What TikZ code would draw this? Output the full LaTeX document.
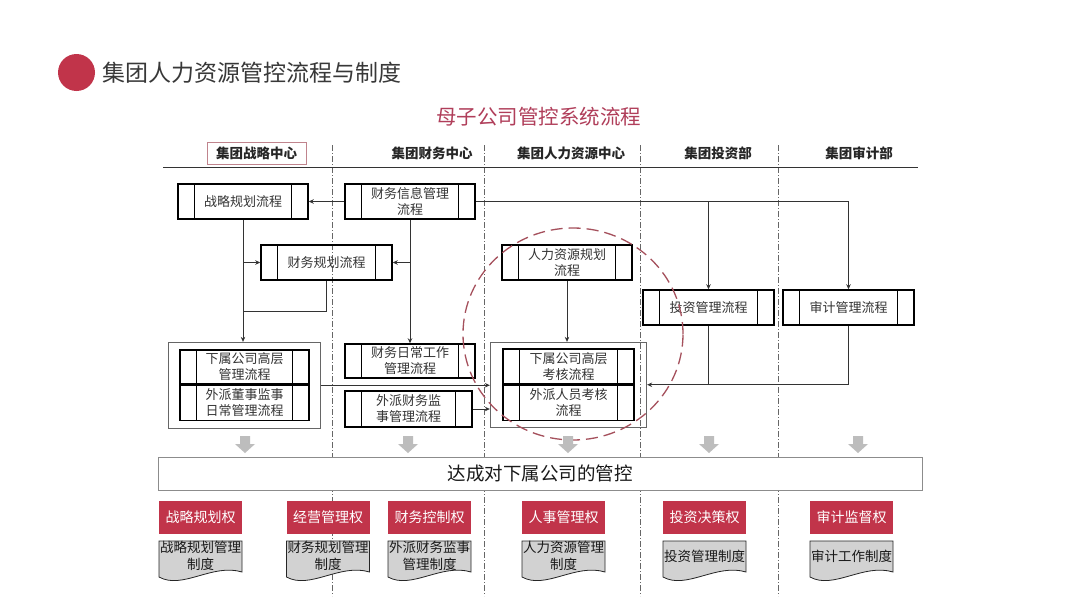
\documentclass[tikz,border=0pt]{standalone}
\usepackage{fontspec}
\setmainfont{Noto Sans CJK SC}
\usetikzlibrary{positioning,arrows.meta,fit}

\definecolor{crimson}{RGB}{193,52,74}
\definecolor{rosetext}{RGB}{176,62,90}
\definecolor{ringred}{RGB}{165,80,92}
\definecolor{docgray}{RGB}{210,210,210}

\begin{document}
\begin{tikzpicture}[x=1pt, y=-1pt, >={Stealth[length=5pt,width=4.5pt]},
  every node/.style={text=black!80},
  proc/.style={draw=black, line width=1.5pt, minimum width=130pt, minimum height=35pt, inner sep=0pt, align=center,
    font=\fontsize{13}{16}\selectfont,
    path picture={
      \draw[line width=1.5pt] ([xshift=16.5pt]path picture bounding box.north west) -- ([xshift=16.5pt]path picture bounding box.south west);
      \draw[line width=1.5pt] ([xshift=-16.5pt]path picture bounding box.north east) -- ([xshift=-16.5pt]path picture bounding box.south east);
    }},
  grp/.style={draw=black!60, line width=0.8pt, inner xsep=11pt, inner ysep=7pt},
  lanehead/.style={font=\fontsize{13.5}{16}\selectfont\bfseries, text=black!85, inner sep=0pt},
  laneline/.style={draw=black!60, line width=0.7pt, dash pattern=on 6pt off 2pt on 1pt off 2pt},
  conn/.style={draw=black!80, line width=0.8pt},
  powerbox/.style={fill=crimson, text=white, minimum width=83pt, minimum height=33pt, inner sep=0pt, font=\fontsize{14}{16}\selectfont},
  docshape/.style={fill=docgray, draw=black!85, line width=0.8pt},
  regdoc/.style={align=center, inner sep=0pt, font=\fontsize{13.5}{16.5}\selectfont, text=black!90},
  ring/.style={draw=ringred, line width=1.3pt, dash pattern=on 12pt off 6pt}
]
  \fill[white] (0,0) rectangle (1080,608);
  \useasboundingbox (0,0) rectangle (1080,608);

  % title
  \node[circle, fill=crimson, minimum size=37pt, inner sep=0pt] (dot) at (76.5,72.5) {};
  \node[anchor=west, inner sep=0pt, font=\fontsize{23}{26}\selectfont, text=black!78] (title) at (102,73) {集团人力资源管控流程与制度};
  \node[font=\fontsize{20.5}{24}\selectfont, text=rosetext] (sub) at (538.5,117) {母子公司管控系统流程};

  % lanes
  \foreach \x in {332,484,640,778}
    \draw[laneline] (\x,145) -- (\x,596);
  \draw[black!80, line width=0.8pt] (163,167) -- (918,167);
  \node[lanehead, draw=ringred!70, line width=0.8pt, minimum width=99pt, minimum height=22pt] (hstrat) at (256.5,153) {集团战略中心};
  \node[lanehead] (hfin) at (432,153) {集团财务中心};
  \node[lanehead] (hhr) at (571,153) {集团人力资源中心};
  \node[lanehead] (hinv) at (718,153) {集团投资部};
  \node[lanehead] (haud) at (859,153) {集团审计部};

  % processes
  \node[proc] (strat) at (243,201.5) {战略规划流程};
  \node[proc] (fin) at (410,201.5) {财务信息管理\\流程};
  \node[proc, minimum width=131pt] (finplan) at (326.5,262.5) {财务规划流程};
  \node[proc] (hrplan) at (567,262.5) {人力资源规划\\流程};
  \node[proc, minimum width=131pt] (invest) at (708.5,307.5) {投资管理流程};
  \node[proc, minimum width=131pt] (audit) at (848.5,307.5) {审计管理流程};
  \node[proc, minimum height=34pt] (finday) at (410,361) {财务日常工作\\管理流程};
  \node[proc, minimum width=127pt, minimum height=36pt] (fxjs) at (408.5,409) {外派财务监\\事管理流程};

  \node[proc, minimum width=129pt, minimum height=34pt] (subA) at (244.5,367) {下属公司高层\\管理流程};
  \node[proc, minimum width=129pt, below=0pt of subA] (subB) {外派董事监事\\日常管理流程};
  \node[grp, fit=(subA)(subB)] (subgrp) {};
  \node[proc, minimum width=131pt] (hrA) at (568.5,366.5) {下属公司高层\\考核流程};
  \node[proc, minimum width=131pt, below=0pt of hrA] (hrB) {外派人员考核\\流程};
  \node[grp, inner xsep=12pt, inner ysep=6pt, fit=(hrA)(hrB)] (hrgrp) {};

  % connectors
  \draw[conn, ->] (fin.west) -- (strat.east);
  \draw[conn, ->] (strat.south) -- (strat.south |- subgrp.north);
  \draw[conn, ->] (strat.south |- finplan.west) -- (finplan.west);
  \draw[conn, ->] (fin.south) -- (finday.north);
  \draw[conn, ->] (fin.south |- finplan.east) -- (finplan.east);
  \coordinate (jn) at ([yshift=-31pt]finplan.south);
  \draw[conn] (finplan.south) -- (jn) -- (jn -| strat.south);
  \draw[conn, ->] (fin.east) -| (audit.north);
  \draw[conn, ->] (fin.east -| invest.north) -- (invest.north);
  \draw[conn, ->] (audit.south) |- (hrgrp.east);
  \draw[conn] (invest.south) -- (invest.south |- hrgrp.east);
  \draw[conn, ->] (hrplan.south) -- (hrplan.south |- hrgrp.north);
  \draw[conn, ->] (subgrp.east) -- (subgrp.east -| hrgrp.west);
  \draw[conn, ->] (fxjs.east) -- (fxjs.east -| hrgrp.west);

  % focus ring
  \draw[ring] (573,334) ellipse [x radius=110pt, y radius=106pt];

  % result
  \foreach \x in {245,408,568,709,858}
    \fill[black!26] ({\x-5},436) -- ({\x+5},436) -- ({\x+5},444) -- ({\x+10},444) -- (\x,453) -- ({\x-10},444) -- ({\x-5},444) -- cycle;
  \node[draw=black!45, fill=white, line width=0.8pt, minimum width=764pt, minimum height=33pt, inner sep=0pt,
    font=\fontsize{18.5}{22}\selectfont, text=black!90] (goal) at (540,473.5) {达成对下属公司的管控};

  \foreach \x/\pwt/\rgt [count=\i] in {200.5/战略规划权/战略规划管理\\制度, 328/经营管理权/财务规划管理\\制度,
      429.5/财务控制权/外派财务监事\\管理制度, 563.5/人事管理权/人力资源管理\\制度,
      704.5/投资决策权/投资管理制度, 851.5/审计监督权/审计工作制度} {
    \node[powerbox] (pw\i) at (\x,517) {\pwt};
    \filldraw[docshape] ({\x-41.5},541) -- ({\x+41.5},541) -- ({\x+41.5},572)
      .. controls ({\x+12},563) and ({\x-18},590) .. ({\x-41.5},577) -- cycle;
    \node[regdoc] (rg\i) at (\x,556) {\rgt};
  }
\end{tikzpicture}
\end{document}
